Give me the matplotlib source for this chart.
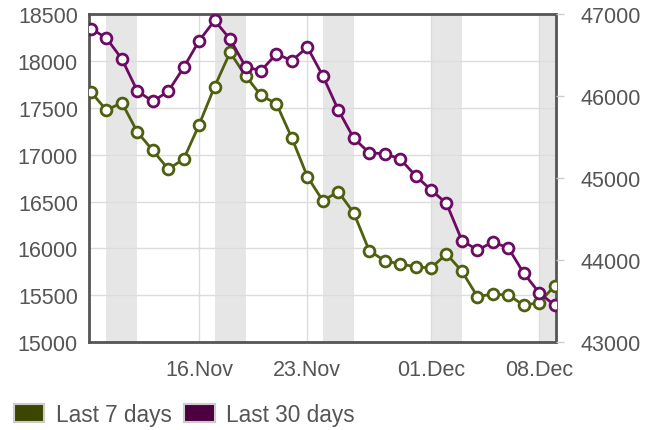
import datetime as dt
import matplotlib
matplotlib.use("Agg")
import matplotlib.pyplot as plt
import matplotlib.dates as mdates
from matplotlib.patches import Patch

plt.rcParams["font.family"] = ["Liberation Sans", "DejaVu Sans"]

start = dt.datetime(2018, 11, 9)
dates = [start + dt.timedelta(days=i) for i in range(31)]

last7 = [17669, 17475, 17554, 17242, 17045, 16847, 16952, 17320, 17726, 18091,
         17841, 17632, 17543, 17177, 16766, 16508, 16604, 16379, 15976, 15868,
         15833, 15804, 15790, 15941, 15755, 15486, 15511, 15503, 15392, 15422,
         15600]
last30 = [46824, 46707, 46453, 46062, 45935, 46058, 46349, 46675, 46922, 46695,
          46358, 46309, 46515, 46432, 46596, 46247, 45831, 45485, 45309, 45296,
          45235, 45028, 44856, 44691, 44238, 44123, 44219, 44148, 43840, 43601,
          43448]
left_ticks = [15000, 15500, 16000, 16500, 17000, 17500, 18000, 18500]
right_ticks = [43000, 44000, 45000, 46000, 47000]
x_ticks = [dt.datetime(2018, 11, 16), dt.datetime(2018, 11, 23),
           dt.datetime(2018, 12, 1), dt.datetime(2018, 12, 8)]

green_line = "#4e5f10"
purple_line = "#6b0b64"
green_box = "#3d4600"
purple_box = "#4c0040"
txt = "#555555"

fig = plt.figure(figsize=(6.45, 4.31), dpi=100)
ax = fig.add_axes([0.138, 0.204, 0.724, 0.761])
ax2 = ax.twinx()

# weekend bands (Saturday -> Monday)
for d in dates:
    if d.weekday() == 5:
        ax.axvspan(d, d + dt.timedelta(days=2), color="#e6e6e6", lw=0, zorder=0)

ax.plot(dates, last7, color=green_line, lw=2.0, marker="o", ms=7.8,
        mfc="white", mec=green_line, mew=2.0, zorder=3)
ax2.plot(dates, last30, color=purple_line, lw=2.0, marker="o", ms=7.8,
         mfc="white", mec=purple_line, mew=2.0, zorder=3)

ax.set_xlim(start - dt.timedelta(hours=3), dates[-1] + dt.timedelta(hours=2))
ax.set_ylim(15000, 18500)
ax2.set_ylim(43000, 47000)
ax.set_yticks(left_ticks)
ax2.set_yticks(right_ticks)
ax.set_xticks(x_ticks)
ax.xaxis.set_major_formatter(mdates.DateFormatter("%d.%b"))

ax.grid(True, color="#dcdcdc", lw=1)
ax.set_axisbelow(True)

fs = 15.5
ax.tick_params(axis="y", length=0, pad=8, labelsize=fs, labelcolor=txt)
ax.tick_params(axis="x", length=0, pad=12, labelsize=fs, labelcolor=txt)
ax2.tick_params(axis="y", length=6, width=1, color="#cccccc", pad=12,
                labelsize=fs, labelcolor=txt)

for s in ax.spines.values():
    s.set_color("#555555")
    s.set_linewidth(2)
for s in ax2.spines.values():
    s.set_visible(False)

handles = [Patch(facecolor=green_box, edgecolor="#cccccc", lw=1.5, label="Last 7 days"),
           Patch(facecolor=purple_box, edgecolor="#cccccc", lw=1.5, label="Last 30 days")]
leg = fig.legend(handles=handles, loc="lower left", bbox_to_anchor=(-0.01, -0.038),
                 ncol=2, frameon=False, fontsize=16.3, handlelength=1.35,
                 handleheight=0.88, handletextpad=0.5, columnspacing=0.55)
for t in leg.get_texts():
    t.set_color(txt)

fig.savefig("out.png", dpi=100)
